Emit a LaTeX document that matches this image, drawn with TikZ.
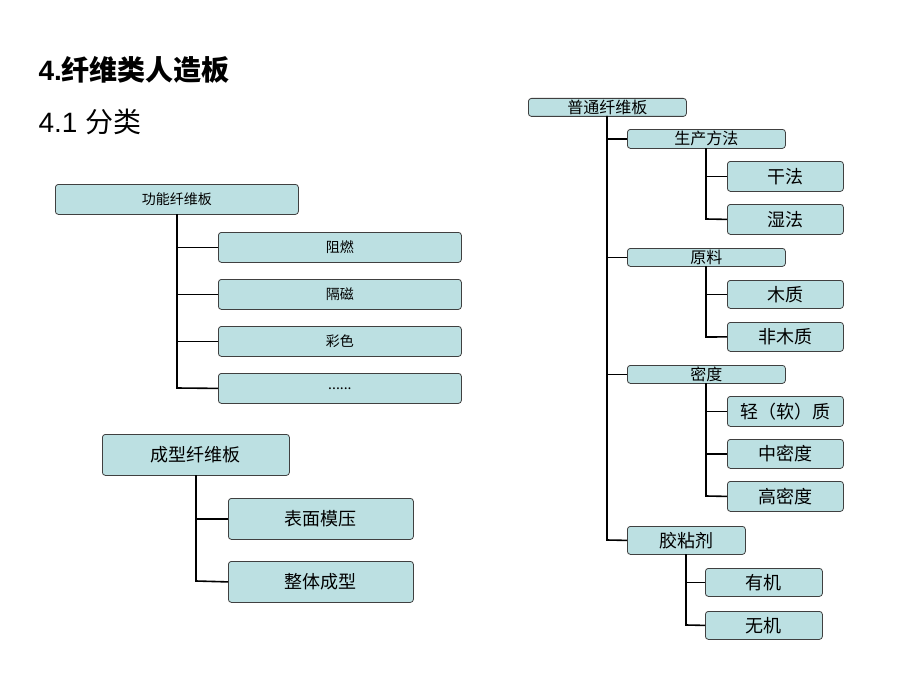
\documentclass[tikz,border=0pt]{standalone}
\usepackage{fontspec}
\setmainfont{Liberation Sans}
\newfontfamily\cjk{Noto Sans CJK SC}
\begin{document}
\begin{tikzpicture}[x=1pt,y=-1pt,
 box/.style={draw=black!75,fill=cyan!25!teal!8!white,fill=bx,rounded corners=3pt,line width=0.8pt,inner sep=0pt,anchor=north west},
 ln/.style={line width=1.6pt,black}]
\definecolor{bx}{HTML}{BCE0E2}
\useasboundingbox (0,0) rectangle (920,690);
\node[anchor=west,font=\fontsize{28}{30}\selectfont\bfseries] (t1) at (35,70) {4.{\cjk 纤维类人造板}};
\node[anchor=west,font=\fontsize{28}{30}\selectfont] (t2) at (35,122) {4.1 {\cjk 分类}};
\newcommand{\bxn}[6]{\node[box,minimum width=#4-#2,minimum height=#5-#3] (#1) at (#2,#3) {};
 \node[font=\cjk\fontsize{#6}{#6}\selectfont] at (#1.center) {};}
\newcommand{\bx}[7]{\node[box,minimum width=#4-#2,minimum height=#5-#3,font=\cjk\fontsize{#6}{#6}\selectfont] (#1) at (#2,#3) {#7};}
% left top
\bx{a}{55}{184}{298}{214}{14}{功能纤维板}
\bx{a1}{218}{232}{461}{262}{14}{阻燃}
\bx{a2}{218}{279}{461}{309}{14}{隔磁}
\bx{a3}{218}{326}{461}{356}{14}{彩色}
\bx{a4}{218}{373}{461}{403}{14}{......}
\draw[ln] (177,214) -- (177,388) -- (a4.west);
\foreach \n in {a1,a2,a3} \draw[ln] (a1.west -| 177,0) ++(0,0) (\n.west) -- (\n.west -| 177,0);
% left bottom
\bx{b}{102}{434}{289}{475}{18}{成型纤维板}
\bx{b1}{228}{498}{413}{539}{18}{表面模压}
\bx{b2}{228}{561}{413}{602}{18}{整体成型}
\draw[ln] (196,475) -- (196,581) -- (b2.west);
\draw[ln] (b1.west) -- (b1.west -| 196,0);
% right
\bx{r}{528}{98}{686}{116}{16}{普通纤维板}
\bx{p}{627}{129}{785}{148}{16}{生产方法}
\bx{p1}{727}{161}{843}{191}{18}{干法}
\bx{p2}{727}{204}{843}{234}{18}{湿法}
\bx{q}{627}{248}{785}{266}{16}{原料}
\bx{q1}{727}{280}{843}{308}{18}{木质}
\bx{q2}{727}{322}{843}{351}{18}{非木质}
\bx{s}{627}{365}{785}{383}{16}{密度}
\bx{s1}{727}{396}{843}{426}{18}{轻（软）质}
\bx{s2}{727}{439}{843}{468}{18}{中密度}
\bx{s3}{727}{481}{843}{511}{18}{高密度}
\bx{g}{627}{526}{745}{554}{18}{胶粘剂}
\bx{g1}{705}{568}{822}{596}{18}{有机}
\bx{g2}{705}{611}{822}{639}{18}{无机}
\draw[ln] (607,116) -- (607,540) -- (g.west);
\foreach \n in {p,q,s} \draw[ln] (\n.west) -- (\n.west -| 607,0);
\draw[ln] (706,148) -- (706,219) -- (p2.west);
\draw[ln] (p1.west) -- (p1.west -| 706,0);
\draw[ln] (706,266) -- (706,337) -- (q2.west);
\draw[ln] (q1.west) -- (q1.west -| 706,0);
\draw[ln] (706,383) -- (706,496) -- (s3.west);
\foreach \n in {s1,s2} \draw[ln] (\n.west) -- (\n.west -| 706,0);
\draw[ln] (686,554) -- (686,625) -- (g2.west);
\draw[ln] (g1.west) -- (g1.west -| 686,0);
\end{tikzpicture}
\end{document}
